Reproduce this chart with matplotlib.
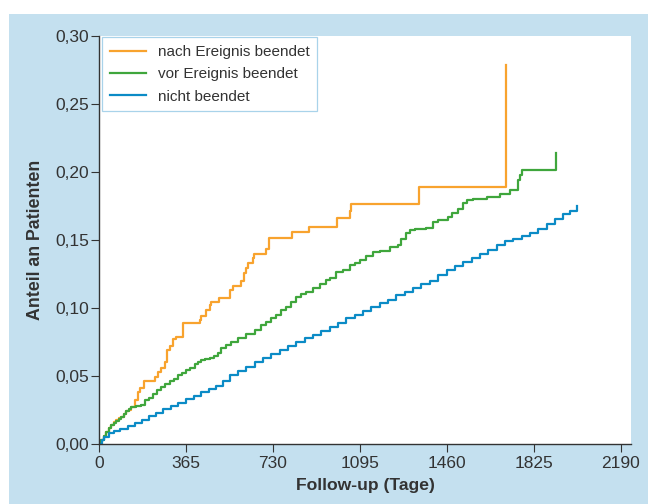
"""Kumulativer Anteil an Patienten nach Follow-up-Dauer (Stufenkurven)."""
import matplotlib.pyplot as plt
from matplotlib.patches import Rectangle
from matplotlib.ticker import FuncFormatter

plt.rcParams["font.family"] = ["Liberation Sans", "DejaVu Sans"]

# Werte (Tage, Anteil)
nach_tage = [0, 10, 20, 30, 40, 51, 62, 72, 83, 93, 104, 114, 125, 135, 149, 163, 170, 188,
             236, 247, 261, 275, 286, 296, 310, 324, 352, 422, 429, 450, 464, 471, 502, 548,
             562, 597, 607, 618, 625, 646, 650, 702, 712, 810, 880, 999, 1052, 1059, 1342,
             1709, 1709]
nach_anteil = [0, 0.003, 0.006, 0.009, 0.012, 0.014, 0.016, 0.0175, 0.019, 0.020, 0.022,
               0.024, 0.025, 0.027, 0.032, 0.038, 0.041, 0.0466, 0.0495, 0.053, 0.056, 0.0605,
               0.069, 0.072, 0.077, 0.079, 0.0887, 0.091, 0.094, 0.0985, 0.102, 0.1046,
               0.1076, 0.113, 0.116, 0.120, 0.1255, 0.1297, 0.1333, 0.1365, 0.140, 0.1434,
               0.1512, 0.1556, 0.1598, 0.1664, 0.171, 0.1765, 0.189, 0.189, 0.279]

vor_tage = [0, 10, 20, 30, 40, 51, 62, 72, 83, 93, 104, 114, 125, 135, 156, 177, 191, 208,
            226, 243, 261, 278, 296, 313, 331, 348, 366, 383, 401, 415, 429, 446, 464, 482,
            499, 513, 534, 555, 583, 618, 653, 681, 702, 723, 744, 765, 786, 807, 828, 849,
            870, 898, 926, 954, 968, 996, 1024, 1052, 1073, 1094, 1122, 1150, 1178, 1220,
            1255, 1269, 1290, 1304, 1325, 1374, 1402, 1423, 1465, 1479, 1507, 1528, 1542,
            1570, 1626, 1682, 1724, 1752, 1759, 1766, 1773, 1917, 1917]
vor_anteil = [0, 0.003, 0.006, 0.009, 0.012, 0.014, 0.0155, 0.017, 0.0185, 0.020, 0.022,
              0.024, 0.0255, 0.027, 0.028, 0.029, 0.032, 0.034, 0.037, 0.0395, 0.042, 0.044,
              0.046, 0.048, 0.0507, 0.0525, 0.0544, 0.056, 0.0588, 0.060, 0.0618, 0.0625,
              0.063, 0.065, 0.0667, 0.0704, 0.073, 0.0752, 0.078, 0.081, 0.0838, 0.0875,
              0.090, 0.0924, 0.095, 0.0985, 0.101, 0.1046, 0.108, 0.110, 0.112, 0.115,
              0.1175, 0.1206, 0.122, 0.1267, 0.128, 0.1316, 0.133, 0.1353, 0.138, 0.1414,
              0.142, 0.1446, 0.146, 0.151, 0.155, 0.157, 0.158, 0.1586, 0.1635, 0.165, 0.167,
              0.170, 0.173, 0.177, 0.1794, 0.180, 0.1814, 0.1838, 0.1868, 0.187, 0.194,
              0.198, 0.2015, 0.2015, 0.214]

nicht_tage = [0, 12, 23, 44, 65, 90, 120, 150, 180, 210, 240, 270, 300, 330, 365, 400, 430,
              460, 490, 520, 548, 583, 618, 653, 688, 723, 758, 793, 828, 863, 898, 933,
              968, 1003, 1038, 1073, 1108, 1143, 1178, 1213, 1248, 1283, 1318, 1353, 1388,
              1423, 1458, 1493, 1528, 1563, 1598, 1633, 1668, 1703, 1738, 1773, 1808, 1843,
              1878, 1913, 1948, 1976, 2004, 2006]
nicht_anteil = [0, 0.003, 0.005, 0.008, 0.0095, 0.011, 0.013, 0.0155, 0.018, 0.0205, 0.023,
                0.0255, 0.028, 0.0305, 0.033, 0.0355, 0.038, 0.0405, 0.043, 0.046, 0.0505,
                0.054, 0.0569, 0.060, 0.0635, 0.066, 0.069, 0.072, 0.0752, 0.078, 0.080,
                0.083, 0.0858, 0.089, 0.0925, 0.095, 0.098, 0.101, 0.1034, 0.106, 0.1096,
                0.112, 0.115, 0.1175, 0.120, 0.124, 0.128, 0.131, 0.134, 0.137, 0.140, 0.143,
                0.1463, 0.149, 0.151, 0.153, 0.155, 0.158, 0.162, 0.1655, 0.169, 0.171,
                0.173, 0.175]

x_ticks = [0, 365, 730, 1095, 1460, 1825, 2190]
y_ticks = [0.0, 0.05, 0.10, 0.15, 0.20, 0.25, 0.30]

BG = "#c4e0ef"
INK = "#333333"

fig = plt.figure(figsize=(6.48, 5.04), dpi=100, facecolor="white")
fig.patches.append(Rectangle((9 / 648, 0), 1, 490 / 504, transform=fig.transFigure,
                             facecolor=BG, edgecolor="none", zorder=-1))
ax = fig.add_axes([99 / 648, 60 / 504, 532 / 648, 408 / 504])
ax.set_facecolor("white")

ax.step(nach_tage, nach_anteil, where="post", color="#f8a32e", lw=1.6,
        label="nach Ereignis beendet")
ax.step(vor_tage, vor_anteil, where="post", color="#3fa63c", lw=1.6,
        label="vor Ereignis beendet")
ax.step(nicht_tage, nicht_anteil, where="post", color="#0b8bc6", lw=1.6,
        label="nicht beendet")

ax.set_xlim(0, 2232)
ax.set_ylim(0, 0.30)
ax.set_xticks(x_ticks)
ax.set_yticks(y_ticks)
ax.yaxis.set_major_formatter(FuncFormatter(lambda v, _: f"{v:.2f}".replace(".", ",")))

for side in ("top", "right"):
    ax.spines[side].set_visible(False)
for side in ("left", "bottom"):
    ax.spines[side].set_color(INK)
    ax.spines[side].set_linewidth(1.0)
ax.tick_params(axis="both", direction="out", length=5.5, width=0.8, color=INK,
               labelcolor=INK, labelsize=12.5)
ax.tick_params(axis="x", pad=3.5)
ax.tick_params(axis="y", pad=1.8)

ax.set_xlabel("Follow-up (Tage)", fontsize=12.6, fontweight="bold", color=INK, labelpad=5)
ax.set_ylabel("Anteil an Patienten", fontsize=12.8, fontweight="bold", color=INK, labelpad=8)

leg = ax.legend(loc="upper left", bbox_to_anchor=(0.006, 0.997), borderaxespad=0,
                fontsize=11, frameon=True, fancybox=False, framealpha=1,
                edgecolor="#a9d3ea", handlelength=2.4, handletextpad=0.75,
                labelspacing=0.55, borderpad=0.5)
leg.get_frame().set_linewidth(0.9)
for t in leg.get_texts():
    t.set_color(INK)

fig.savefig("out.png", dpi=100)
